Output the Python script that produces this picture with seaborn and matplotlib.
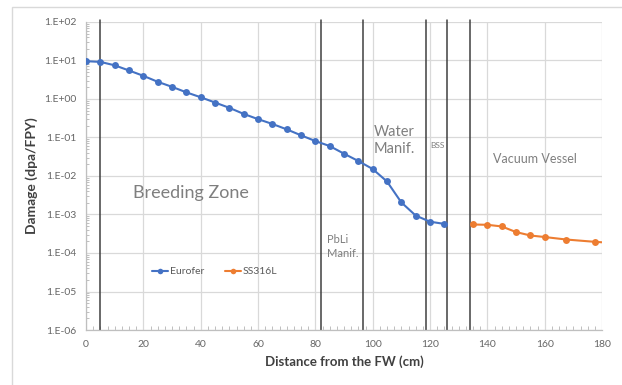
import numpy as np
import pandas as pd
import matplotlib
matplotlib.use("Agg")
import matplotlib.pyplot as plt
from matplotlib.patches import Rectangle
from matplotlib.ticker import FixedLocator, FuncFormatter, MultipleLocator, LogLocator, NullFormatter
import seaborn as sns

# Damage profile through the blanket, per material
eurofer_x = [0, 5, 10, 15, 20, 25, 30, 35, 40, 45, 50, 55, 60, 65, 70, 75,
             80, 85, 90, 95, 100, 105, 110, 115, 120, 125]
eurofer_dpa = [9.6, 9.2, 7.5, 5.5, 4.0, 2.8, 2.07, 1.49, 1.11, 0.81, 0.59, 0.41,
               0.30, 0.225, 0.163, 0.114, 0.081, 0.060, 0.038, 0.0245, 0.0152,
               0.0072, 0.00206, 0.00094, 0.00065, 0.00057]

ss316l_x = [135, 140, 145, 150, 155, 160, 167.5, 177.5, 187.5]
ss316l_dpa = [0.00055, 0.00054, 0.00049, 0.00035, 0.000285, 0.00026,
              0.000224, 0.000195, 0.000175]

# Radial boundaries between the blanket regions (cm)
boundaries = [5, 82, 96.5, 118.5, 126, 134]

region_labels = ["Breeding Zone", "Water\nManif.", "BSS", "Vacuum Vessel", "PbLi\nManif."]

df = pd.concat([
    pd.DataFrame({"x": eurofer_x, "dpa": eurofer_dpa, "Material": "Eurofer"}),
    pd.DataFrame({"x": ss316l_x, "dpa": ss316l_dpa, "Material": "SS316L"}),
], ignore_index=True)

sns.set_theme(style="white")
plt.rcParams["font.family"] = ["Lato", "DejaVu Sans"]

W, H = 622, 385
fig = plt.figure(figsize=(W / 100, H / 100), dpi=100)
ax = fig.add_axes([86 / W, 1 - 330 / H, (602 - 86) / W, (330 - 22) / H])

# chart-area frame
fig.patches.append(Rectangle((12 / W, -0.05), 1.1, 1 - 7 / H + 0.05,
                             transform=fig.transFigure, fill=False,
                             edgecolor="#d9d9d9", linewidth=1.0, zorder=0))

palette = {"Eurofer": "#4472C4", "SS316L": "#ED7D31"}
sns.lineplot(data=df, x="x", y="dpa", hue="Material", palette=palette,
             marker="o", markersize=5, markeredgewidth=0, linewidth=1.5,
             sort=False, ax=ax, zorder=3)

ax.set_yscale("log")
ax.set_xlim(0, 180)
ax.set_ylim(1e-6, 1e2)

ax.xaxis.set_major_locator(MultipleLocator(20))
ax.xaxis.set_minor_locator(MultipleLocator(2.5))
ax.yaxis.set_major_locator(FixedLocator([10.0 ** e for e in range(-6, 3)]))
ax.yaxis.set_minor_locator(LogLocator(base=10, subs=np.arange(2, 10), numticks=20))
ax.yaxis.set_minor_formatter(NullFormatter())
ax.yaxis.set_major_formatter(FuncFormatter(lambda v, p: f"1.E{int(round(np.log10(v))):+03d}"))

ax.grid(True, which="major", color="#d9d9d9", linewidth=0.9)
ax.set_axisbelow(True)
for side in ["top", "right"]:
    ax.spines[side].set_visible(False)
for side in ["left", "bottom"]:
    ax.spines[side].set_color("#bfbfbf")
    ax.spines[side].set_linewidth(0.9)

ax.tick_params(axis="both", which="major", labelsize=7.5, labelcolor="#666666",
               length=0, pad=7)
ax.tick_params(axis="x", which="minor", direction="in", length=3, width=0.7,
               color="#bfbfbf", bottom=True)
ax.tick_params(axis="y", which="minor", direction="in", length=2.5, width=0.7,
               color="#bfbfbf", left=True)

ax.set_xlabel("Distance from the FW (cm)", fontsize=9.5, fontweight="bold",
              color="#404040", labelpad=5)
ax.set_ylabel("Damage (dpa/FPY)", fontsize=10, fontweight="bold",
              color="#404040", labelpad=4)

for b in boundaries:
    ax.axvline(b, ymin=0, ymax=1.006, color="#404040", linewidth=1.1,
               clip_on=False, zorder=2)

txt = dict(color="#7f7f7f", ha="left", va="center")
ax.text(16.4, 3.7e-3, region_labels[0], fontsize=13, **txt)
ax.text(100.5, 0.083, region_labels[1], fontsize=10.5, linespacing=1.25, **txt)
ax.text(120.0, 0.063, region_labels[2], fontsize=6, **txt)
ax.text(141.9, 0.0277, region_labels[3], fontsize=9, **txt)
ax.text(84.2, 1.48e-4, region_labels[4], fontsize=8, linespacing=1.35, **txt)

leg = ax.legend(loc="center left", bbox_to_anchor=(0.128, 0.189), ncol=2,
                frameon=False, fontsize=7.5, handlelength=1.5, handletextpad=0.2,
                columnspacing=2.0, borderpad=0, borderaxespad=0, markerscale=0.8)
for t in leg.get_texts():
    t.set_color("#595959")
leg.set_title(None)

fig.savefig("out.png", dpi=100)
